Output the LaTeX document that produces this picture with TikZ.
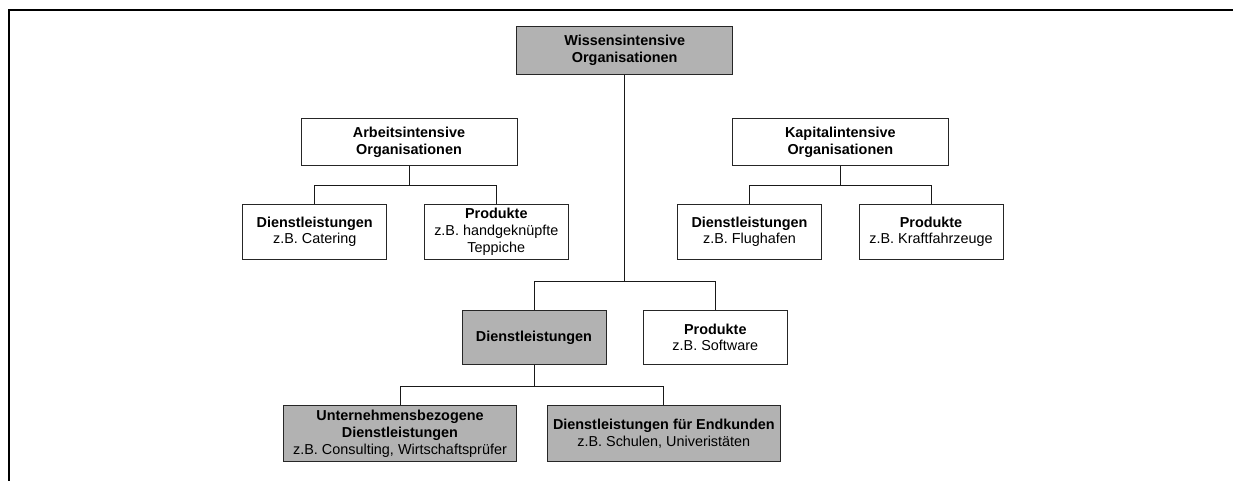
\documentclass[tikz,border=0pt]{standalone}
\usepackage{fontspec}
\setmainfont{Liberation Sans}
\definecolor{boxgray}{gray}{0.70}
\definecolor{edge}{gray}{0.15}
\begin{document}
\begin{tikzpicture}[x=1pt,y=-1pt,
  box/.style={draw=edge,line width=1pt,fill=white,align=center,inner sep=0pt,
    font=\fontsize{14.4}{16.7}\selectfont},
  shaded/.style={box,fill=boxgray},
  wide/.style={minimum width=216pt,minimum height=47.5pt},
  mid/.style={minimum width=144pt,minimum height=54.7pt},
  big/.style={minimum width=233pt,minimum height=55.7pt},
  link/.style={draw=black!90,line width=0.9pt}]
\useasboundingbox (0,0) rectangle (1233,481);
% outer frame: top and left edges only
\draw[line width=2.6pt] (9,481) -- (9,10) -- (1233,10);

% top level
\node[shaded,wide] (wiss) at (624.7,50.4) {\textbf{Wissensintensive}\\\textbf{Organisationen}};

% second level
\node[box,wide] (arb) at (409,142) {\textbf{Arbeitsintensive}\\\textbf{Organisationen}};
\node[box,wide] (kap) at (840.3,142) {\textbf{Kapitalintensive}\\\textbf{Organisationen}};

\node[box,mid] (arbD) at (314.7,231.7) {\textbf{Dienstleistungen}\\z.B. Catering};
\node[box,mid] (arbP) at (496.3,231.7) {\textbf{Produkte}\\z.B. handgeknüpfte\\Teppiche};
\node[box,mid] (kapD) at (749.5,231.7) {\textbf{Dienstleistungen}\\z.B. Flughafen};
\node[box,mid] (kapP) at (931,231.7) {\textbf{Produkte}\\z.B. Kraftfahrzeuge};

% knowledge-intensive branch
\node[shaded,mid] (dl) at (534,337.5) {\textbf{Dienstleistungen}};
\node[box,mid] (prod) at (715.3,337.5) {\textbf{Produkte}\\z.B. Software};

\node[shaded,big] (unt) at (400,433.8) {\textbf{Unternehmensbezogene}\\\textbf{Dienstleistungen}\\z.B. Consulting, Wirtschaftsprüfer};
\node[shaded,big] (end) at (663.8,433.8) {\textbf{Dienstleistungen für Endkunden}\\z.B. Schulen, Univeristäten};

% connectors
\coordinate (wj) at (624.7,281);
\path[link] (wiss.south) -- (wj);
\path[link] (wj) -| (dl.north);
\path[link] (wj) -| (prod.north);

\coordinate (aj) at (409,185);
\path[link] (arb.south) -- (aj);
\path[link] (aj) -| (arbD.north);
\path[link] (aj) -| (arbP.north);

\coordinate (kj) at (840.3,185);
\path[link] (kap.south) -- (kj);
\path[link] (kj) -| (kapD.north);
\path[link] (kj) -| (kapP.north);

\coordinate (dj) at (534,386);
\path[link] (dl.south) -- (dj);
\path[link] (dj) -| (unt.north);
\path[link] (dj) -| (end.north);
\end{tikzpicture}
\end{document}
